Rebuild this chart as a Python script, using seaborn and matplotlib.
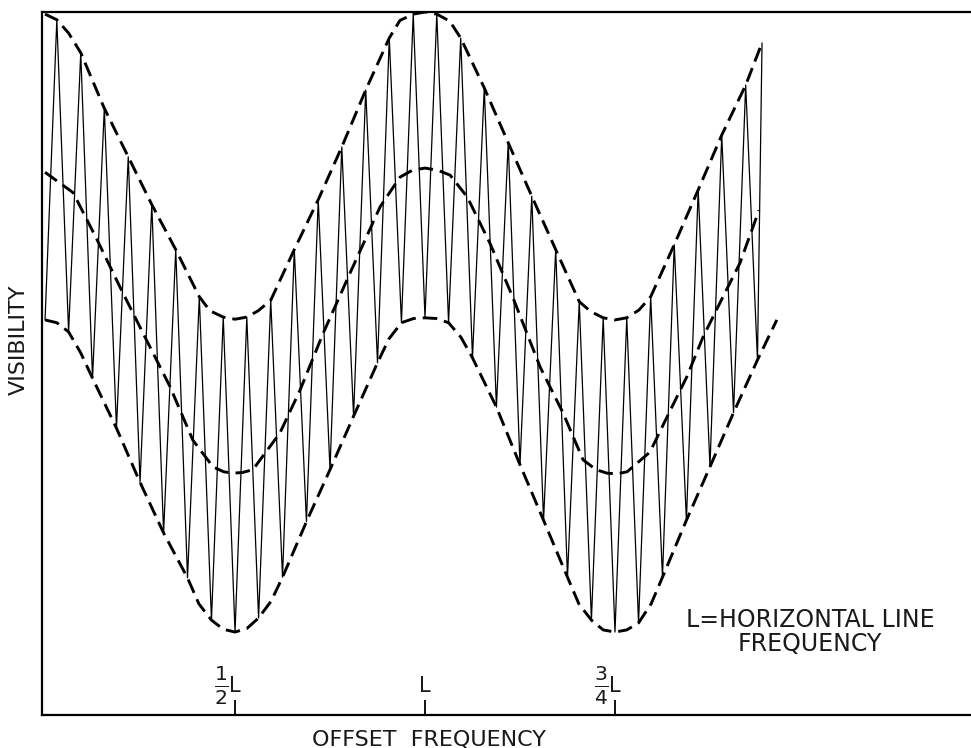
# Visibility vs offset frequency - zigzag between two envelopes
import pandas as pd
import seaborn as sns
import matplotlib.pyplot as plt

sns.set_style('white')
plt.rcParams['font.family'] = ['DejaVu Sans']

# zigzag peaks (they touch the upper envelope), x in units of L
peak_x = [0.031, 0.094, 0.156, 0.219, 0.281, 0.344, 0.406, 0.469, 0.531, 0.594,
          0.656, 0.719, 0.781, 0.844, 0.906, 0.969, 1.031, 1.094, 1.156, 1.219,
          1.281, 1.344, 1.406, 1.469, 1.531, 1.594, 1.656, 1.719, 1.781, 1.844, 1.887]
peak_y = [9.89, 9.42, 8.63, 7.94, 7.26, 6.62, 5.95, 5.66, 5.66, 5.90,
          6.62, 7.33, 8.08, 8.89, 9.63, 9.97, 9.97, 9.63, 8.92, 8.14,
          7.38, 6.62, 5.88, 5.65, 5.65, 5.95, 6.69, 7.47, 8.25, 8.96, 9.56]

# zigzag troughs (they touch the lower envelope)
trough_x = [0.0, 0.062, 0.125, 0.188, 0.25, 0.312, 0.375, 0.438, 0.5, 0.562,
            0.625, 0.688, 0.75, 0.812, 0.875, 0.938, 1.0, 1.062, 1.125, 1.188,
            1.25, 1.312, 1.375, 1.438, 1.5, 1.562, 1.625, 1.688, 1.75, 1.812, 1.875]
trough_y = [5.62, 5.45, 4.79, 4.08, 3.31, 2.59, 1.95, 1.35, 1.18, 1.38,
            1.96, 2.75, 3.49, 4.25, 5.01, 5.58, 5.65, 5.58, 5.08, 4.38,
            3.56, 2.77, 1.96, 1.35, 1.18, 1.31, 1.96, 2.77, 3.53, 4.30, 5.05]

# dashed envelopes
upper_x = [0.0, 0.031, 0.062, 0.094, 0.156, 0.219, 0.281, 0.344, 0.406, 0.434,
           0.469, 0.5, 0.531, 0.561, 0.594, 0.656, 0.719, 0.781, 0.844, 0.906,
           0.934, 0.969, 1.0, 1.031, 1.065, 1.094, 1.156, 1.219, 1.281, 1.344,
           1.406, 1.436, 1.469, 1.5, 1.531, 1.563, 1.594, 1.656, 1.719, 1.781,
           1.844, 1.887]
upper_y = [9.97, 9.89, 9.70, 9.42, 8.63, 7.94, 7.26, 6.62, 5.95, 5.75,
           5.66, 5.63, 5.66, 5.75, 5.90, 6.62, 7.33, 8.08, 8.89, 9.63,
           9.88, 9.97, 10.0, 9.97, 9.87, 9.63, 8.92, 8.14, 7.38, 6.62,
           5.88, 5.74, 5.65, 5.62, 5.65, 5.76, 5.95, 6.69, 7.47, 8.25,
           8.96, 9.56]

mid_x = [0.0, 0.074, 0.137, 0.197, 0.258, 0.329, 0.389, 0.442, 0.47, 0.495,
         0.52, 0.547, 0.618, 0.671, 0.732, 0.803, 0.882, 0.934, 0.967, 1.0,
         1.033, 1.066, 1.111, 1.171, 1.232, 1.303, 1.363, 1.416, 1.45, 1.479,
         1.505, 1.532, 1.592, 1.637, 1.689, 1.732, 1.776, 1.829, 1.879]
mid_y = [7.72, 7.43, 6.76, 6.09, 5.43, 4.67, 3.91, 3.53, 3.46, 3.44,
         3.45, 3.49, 4.01, 4.62, 5.43, 6.29, 7.23, 7.65, 7.75, 7.78,
         7.75, 7.68, 7.37, 6.71, 5.93, 4.95, 4.30, 3.63, 3.49, 3.44,
         3.43, 3.46, 3.74, 4.24, 4.81, 5.38, 5.86, 6.43, 7.18]

lower_x = [0.0, 0.031, 0.062, 0.094, 0.125, 0.188, 0.25, 0.312, 0.375, 0.405,
           0.438, 0.469, 0.5, 0.531, 0.562, 0.595, 0.625, 0.688, 0.75, 0.812,
           0.875, 0.905, 0.938, 0.97, 1.0, 1.03, 1.062, 1.095, 1.125, 1.188,
           1.25, 1.312, 1.375, 1.405, 1.438, 1.469, 1.5, 1.531, 1.562, 1.595,
           1.625, 1.688, 1.75, 1.812, 1.875, 1.926]
lower_y = [5.62, 5.58, 5.45, 5.15, 4.79, 4.08, 3.31, 2.59, 1.95, 1.58,
           1.35, 1.22, 1.18, 1.23, 1.38, 1.62, 1.96, 2.75, 3.49, 4.25,
           5.01, 5.35, 5.58, 5.64, 5.65, 5.64, 5.58, 5.37, 5.08, 4.38,
           3.56, 2.77, 1.96, 1.58, 1.35, 1.21, 1.18, 1.21, 1.31, 1.58,
           1.96, 2.77, 3.53, 4.30, 5.05, 5.62]

tick_pos = [0.5, 1.0, 1.5]
tick_frac = [r'$\frac{1}{2}$', '', r'$\frac{3}{4}$']

# interleave troughs and peaks into one zigzag
zig = pd.DataFrame({
    'x': [v for pair in zip(trough_x, peak_x) for v in pair],
    'y': [v for pair in zip(trough_y, peak_y) for v in pair],
})

fig = plt.figure(figsize=(9.71, 7.48), dpi=100)
ax = fig.add_axes([42 / 971, 33 / 748, 929 / 971, 703 / 748])

sns.lineplot(data=zig, x='x', y='y', sort=False, estimator=None,
             color='black', lw=0.9, ax=ax)

dash = dict(color='black', lw=2.1, linestyle=(0, (5, 2.4)), sort=False,
            estimator=None, ax=ax, zorder=3, solid_joinstyle='round')
sns.lineplot(x=upper_x, y=upper_y, **dash)
sns.lineplot(x=mid_x, y=mid_y, **dash)
sns.lineplot(x=lower_x, y=lower_y, **dash)

ax.set_xlim(-0.008, 2.437)
ax.set_ylim(0, 10)
ax.set_xlabel('')
ax.set_ylabel('')
ax.set_yticks([])
ax.set_xticks(tick_pos)
ax.tick_params(axis='x', bottom=True, direction='in', length=11, width=1.3,
               color='black', labelbottom=False)
ax.spines['right'].set_visible(False)
for s in ['top', 'left', 'bottom']:
    ax.spines[s].set_color('black')
    ax.spines[s].set_linewidth(1.6)

ink = '#1a1a1a'
trans = ax.get_xaxis_transform()
for pos, frac in zip(tick_pos, tick_frac):
    ax.text(pos, 0.027, 'L', transform=trans, ha='center', va='bottom',
            fontsize=15, color=ink)
    if frac:
        ax.text(pos - 0.017, 0.041, frac, transform=trans, ha='right',
                va='center', fontsize=21, color=ink)

fig.text(429 / 971, 1 - 739 / 748, 'OFFSET  FREQUENCY', ha='center',
         va='center', fontsize=16, color=ink)
fig.text(19 / 971, 1 - 340 / 748, 'VISIBILITY', rotation=90, ha='center',
         va='center', fontsize=16, color=ink)
fig.text(810 / 971, 1 - 632 / 748, 'L=HORIZONTAL LINE\nFREQUENCY',
         ha='center', va='center', fontsize=17, color=ink,
         multialignment='center', linespacing=1.0)

plt.savefig('out.png', dpi=100)
plt.close()
